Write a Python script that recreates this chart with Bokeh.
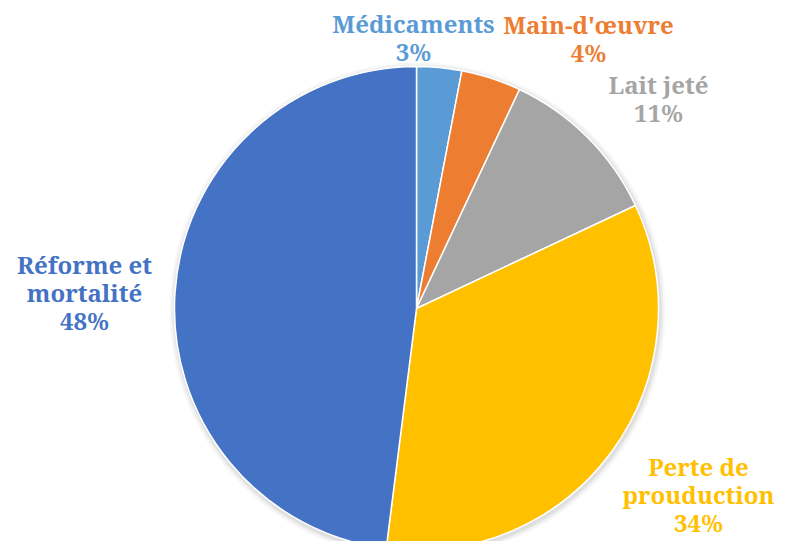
import math
from bokeh.plotting import figure
from bokeh.models import Range1d, ColumnDataSource
from bokeh.core.properties import value
from bokeh.embed import file_html
from bokeh.resources import INLINE

# ---- data ----
categories = ["Médicaments", "Main-d'œuvre", "Lait jeté", "Perte de\nprouduction", "Réforme et\nmortalité"]
percents = [3, 4, 11, 34, 48]
colors = ["#5B9BD5", "#ED7D31", "#A5A5A5", "#FFC000", "#4472C4"]

# ---- layout (reference-pixel coordinates; y measured upward) ----
W, H = 777, 541
REF_H = 549
def sy(y):
    return REF_H - y

cx, cy, R = 416, sy(308), 242
label_pos = [(413, 37), (588, 38), (658, 98), (698, 494), (84, 292)]

total = sum(percents)
starts, ends = [], []
cum = 0.0
for v in percents:
    starts.append(math.pi / 2 - 2 * math.pi * cum / total)
    cum += v
    ends.append(math.pi / 2 - 2 * math.pi * cum / total)

src = ColumnDataSource(dict(
    start=starts, end=ends, color=colors,
    lx=[p[0] for p in label_pos], ly=[sy(p[1]) for p in label_pos],
    label=[f"{c}\n{v}%" for c, v in zip(categories, percents)],
))

p = figure(width=W, height=H, x_range=Range1d(0, W), y_range=Range1d(sy(H), sy(0)),
           output_backend="svg", toolbar_location=None, min_border=0)
p.axis.visible = False
p.grid.visible = False
p.outline_line_color = None
p.background_fill_color = "white"

# soft shadow
for dr, a in [(6, 0.03), (4, 0.04), (2, 0.06)]:
    p.circle(x=[cx + 1], y=[cy - 2], radius=R + dr, fill_color="black", fill_alpha=a, line_color=None)

p.wedge(x=cx, y=cy, radius=R, start_angle="start", end_angle="end", direction="clock",
        fill_color="color", line_color="white", line_width=1.5, source=src)

p.text(x="lx", y="ly", text="label", text_color="color", source=src,
       text_font=value("Noto Serif"), text_font_style="bold",
       text_font_size="24px",
       text_align="center", text_baseline="middle", text_line_height=0.86)

open("out.html", "w").write(file_html(p, INLINE))
